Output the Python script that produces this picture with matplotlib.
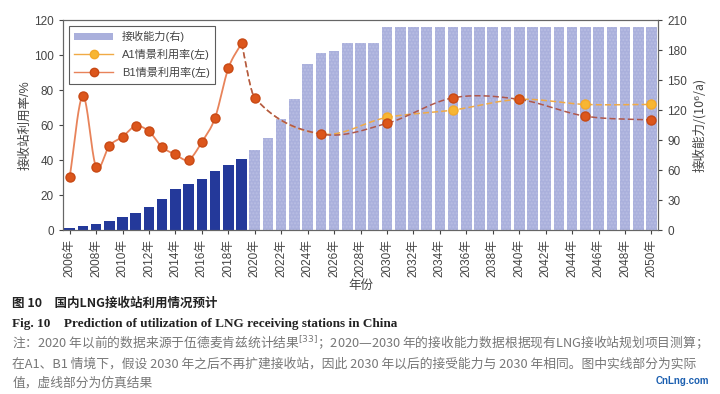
import numpy as np
import matplotlib
matplotlib.use("Agg")
import matplotlib.pyplot as plt
from matplotlib.lines import Line2D
from matplotlib.patches import Patch

plt.rcParams['font.family'] = ['Liberation Sans', 'Noto Sans CJK SC', 'DejaVu Sans']

years = list(range(2006, 2051))
capacity = [2.3, 3.7, 5.7, 9.3, 12.7, 16.7, 23, 31, 40.7, 45.7, 51.3, 58.7, 65.3, 71.3,
            79.7, 91.7, 110.7, 131, 166, 177, 178.7, 187.3, 187.3, 187.3] + [203.3] * 21
actual_last = 2019

b1_years = [2006, 2007, 2008, 2009, 2010, 2011, 2012, 2013, 2014, 2015, 2016, 2017, 2018, 2019]
b1_rate = [30.1, 76.6, 36.2, 48.2, 53.3, 59.4, 56.4, 47.4, 43.2, 40.2, 50.3, 64.2, 92.4, 106.7]

sim_years = [2019, 2020, 2025, 2030, 2035, 2040, 2045, 2050]
b1_sim = [106.7, 75.6, 54.9, 61.0, 75.6, 74.7, 65.1, 62.9]
a1_sim = [106.7, 75.6, 54.9, 64.4, 68.6, 74.7, 71.8, 71.8]

tick_years = list(range(2006, 2051, 2))
tick_labels = [f"{y}年" for y in tick_years]


def smooth(xs, ys, n=30):
    # cardinal hermite curve through the points, as a function of x
    xs = np.asarray(xs, float)
    ys = np.asarray(ys, float)
    m = np.zeros_like(ys)
    m[1:-1] = (ys[2:] - ys[:-2]) / (xs[2:] - xs[:-2])
    m[0] = (ys[1] - ys[0]) / (xs[1] - xs[0])
    m[-1] = (ys[-1] - ys[-2]) / (xs[-1] - xs[-2])
    out_x, out_y = [], []
    for i in range(len(xs) - 1):
        h = xs[i + 1] - xs[i]
        t = np.linspace(0, 1, n, endpoint=(i == len(xs) - 2))
        h00 = 2 * t**3 - 3 * t**2 + 1
        h10 = t**3 - 2 * t**2 + t
        h01 = -2 * t**3 + 3 * t**2
        h11 = t**3 - t**2
        out_x.extend(xs[i] + t * h)
        out_y.extend(h00 * ys[i] + h10 * h * m[i] + h01 * ys[i + 1] + h11 * h * m[i + 1])
    return out_x, out_y


fig = plt.figure(figsize=(7.2, 3.94), dpi=100)
ax = fig.add_axes([0.0875, 0.416, 0.8265, 0.533])
ax2 = ax.twinx()

# bars on the right axis, behind the lines
bar_colors = ['#24399a' if y <= actual_last else '#aab0dc' for y in years]
bars = ax2.bar(years, capacity, width=0.8, color=bar_colors, zorder=1)
for b, y in zip(bars, years):
    if y > actual_last:
        b.set_hatch('.....')
        b.set_edgecolor('#b9bee3')
        b.set_linewidth(0)
ax2.set_ylim(0, 210)
ax2.set_yticks(range(0, 211, 30))

ax.set_zorder(ax2.get_zorder() + 1)
ax.patch.set_visible(False)

ms = 6.5
sx, sy = smooth(b1_years, b1_rate)
ax.plot(sx, sy, color='#e8835a', lw=1.3, zorder=3)
ax.plot(b1_years, b1_rate, 'o', color='#dc561c', mec='#c84914', ms=ms, zorder=4)

ax_, ay_ = smooth(sim_years, a1_sim)
ax.plot(ax_, ay_, color='#f0aa45', lw=1.1, ls=(0, (4, 2)), zorder=3)
ax.plot(sim_years[3:], a1_sim[3:], 'o', color='#f7b634', mec='#f4a92a', ms=ms, zorder=4)
bx_, by_ = smooth(sim_years, b1_sim)
ax.plot(bx_, by_, color='#b0574a', lw=1.1, ls=(0, (4, 2)), zorder=3)
ax.plot(sim_years[1:], b1_sim[1:], 'o', color='#dc561c', mec='#c84914', ms=ms, zorder=5)

ax.set_xlim(2005.5, 2050.5)
ax.set_ylim(0, 120)
ax.set_yticks(range(0, 121, 20))
ax.set_xticks(tick_years)
ax.set_xticklabels(tick_labels, rotation=90)

for a in (ax, ax2):
    a.tick_params(labelsize=8.5, colors='#444444', length=3)
    for s in a.spines.values():
        s.set_color('#666666')
        s.set_linewidth(0.8)

ax.set_ylabel('接收站利用率/%', fontsize=9, color='#444444', labelpad=2)
ax2.set_ylabel('接收能力/(10⁶/a)', fontsize=9, color='#444444', labelpad=4,
               family=['Noto Sans CJK SC', 'DejaVu Sans'])
ax.set_xlabel('年份', fontsize=9, color='#444444', labelpad=2)

# legend
handles = [Patch(facecolor='#aab0dc'),
           Line2D([], [], color='#f0aa45', lw=1, marker='o', mfc='#f7b634', mec='#f4a92a', ms=6),
           Line2D([], [], color='#e8835a', lw=1, marker='o', mfc='#dc561c', mec='#c84914', ms=6)]
labels = ['接收能力(右)', 'A1情景利用率(左)', 'B1情景利用率(左)']
leg = ax.legend(handles, labels, loc='upper left', bbox_to_anchor=(0.0, 1.0),
                fontsize=8, frameon=True, fancybox=False, edgecolor='#333333',
                handlelength=3.5, labelspacing=0.6, borderpad=0.5)
leg.get_frame().set_linewidth(0.8)
for t in leg.get_texts():
    t.set_color('#444444')

# caption
fig.text(0.017, 0.222, '图 10　国内LNG接收站利用情况预计', fontsize=9, fontweight='bold',
         family=['Noto Sans CJK SC'], color='#222222')
fig.text(0.017, 0.17, 'Fig. 10    Prediction of utilization of LNG receiving stations in China',
         fontsize=9.5, fontweight='bold', family=['Liberation Serif'], color='#222222')
note = ['注：2020 年以前的数据来源于伍德麦肯兹统计结果$^{[33]}$；2020—2030 年的接收能力数据根据现有LNG接收站规划项目测算；',
        '在A1、B1 情境下，假设 2030 年之后不再扩建接收站，因此 2030 年以后的接受能力与 2030 年相同。图中实线部分为实际',
        '值，虚线部分为仿真结果']
for i, line in enumerate(note):
    fig.text(0.017, 0.118 - i * 0.05, line, fontsize=9.2, color='#777777',
             family=['Noto Sans CJK SC', 'DejaVu Sans'])
fig.text(0.985, 0.025, 'CnLng.com', fontsize=7, color='#1b5fb0', fontweight='bold', ha='right')

fig.savefig('out.png', dpi=100)
